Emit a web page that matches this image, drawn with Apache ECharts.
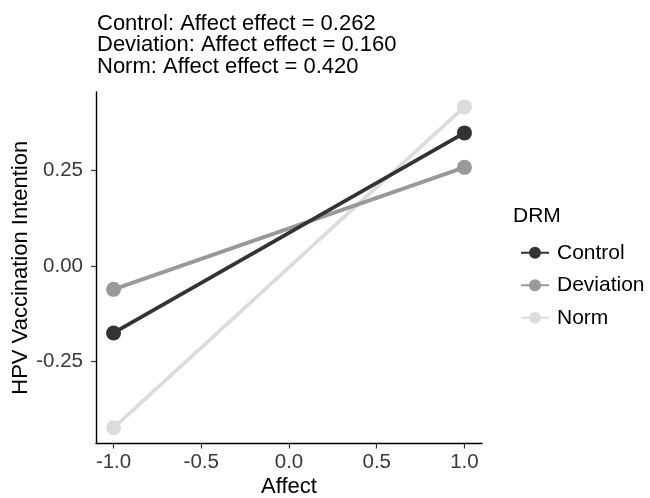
<!DOCTYPE html>
<html>
<head>
<meta charset="utf-8">
<script src="https://cdn.jsdelivr.net/npm/echarts@6/dist/echarts.min.js"></script>
<style>
  html, body { margin: 0; padding: 0; background: #fff; }
  #chart { width: 650px; height: 498px; }
</style>
</head>
<body>
<div id="chart"></div>
<script>
// 数据
var affect = [-1, 1];
var groups = ['Control', 'Deviation', 'Norm'];
var control = [-0.175, 0.348];
var deviation = [-0.061, 0.258];
var norm = [-0.423, 0.416];
var effects = ['0.262', '0.160', '0.420'];
var colors = ['#333333', '#999999', '#dcdcdc'];
var xTicks = [-1.0, -0.5, 0.0, 0.5, 1.0];
var yTicks = [-0.25, 0.00, 0.25];

var font = 'Liberation Sans, Arial, sans-serif';
var values = [control, deviation, norm];

function pairs(ys) {
    return affect.map(function (x, i) { return [x, ys[i]]; });
}

var titleText = groups.map(function (g, i) {
    return g + ': Affect effect = ' + effects[i];
}).join('\n');

var series = groups.map(function (g, i) {
    return {
        name: g,
        type: 'line',
        data: pairs(values[i]),
        symbol: 'circle',
        symbolSize: 15,
        lineStyle: { width: 3.8, color: colors[i] },
        itemStyle: { color: colors[i] },
        z: 3 - i
    };
});

var myChart = echarts.init(document.getElementById('chart'));
myChart.setOption({
    animation: false,
    title: {
        text: titleText,
        left: 92,
        top: 8,
        textStyle: { fontFamily: font, fontSize: 22, fontWeight: 'normal', color: '#000', lineHeight: 21.5 }
    },
    grid: { left: 96, right: 168, top: 92, bottom: 54.5, outerBoundsMode: 'none', containLabel: false },
    xAxis: {
        type: 'value',
        min: -1.1,
        max: 1.1,
        name: 'Affect',
        nameLocation: 'middle',
        nameGap: 32,
        nameMoveOverlap: false,
        nameTextStyle: { fontFamily: font, fontSize: 22, color: '#000' },
        splitLine: { show: false },
        axisLine: { onZero: false, lineStyle: { color: '#000', width: 1.4 } },
        axisTick: { show: true, length: 5, lineStyle: { color: '#333', width: 1.2 },
            customValues: xTicks },
        axisLabel: { fontFamily: font, fontSize: 20.5, color: '#3a3a3a', margin: 8,
            customValues: xTicks,
            formatter: function (v) { return v.toFixed(1); } }
    },
    yAxis: {
        type: 'value',
        min: -0.464,
        max: 0.455,
        name: 'HPV Vaccination Intention',
        nameLocation: 'middle',
        nameGap: 64,
        nameMoveOverlap: false,
        nameTextStyle: { fontFamily: font, fontSize: 22, color: '#000' },
        splitLine: { show: false },
        axisLine: { show: true, onZero: false, lineStyle: { color: '#000', width: 1.4 } },
        axisTick: { show: true, length: 5, lineStyle: { color: '#333', width: 1.2 },
            customValues: yTicks },
        axisLabel: { fontFamily: font, fontSize: 20.5, color: '#3a3a3a', margin: 13,
            customValues: yTicks,
            formatter: function (v) { return v.toFixed(2); } }
    },
    legend: {
        orient: 'vertical',
        left: 515,
        top: 237,
        itemWidth: 28,
        itemHeight: 15,
        itemGap: 11,
        textStyle: { fontFamily: font, fontSize: 21, lineHeight: 21.5, color: '#000', padding: [0, 0, 0, 3] },
        data: groups
    },
    graphic: [{
        type: 'text',
        left: 513,
        top: 206,
        style: { text: 'DRM', font: '21px ' + font, fill: '#000' }
    }],
    series: series
});
</script>
</body>
</html>
